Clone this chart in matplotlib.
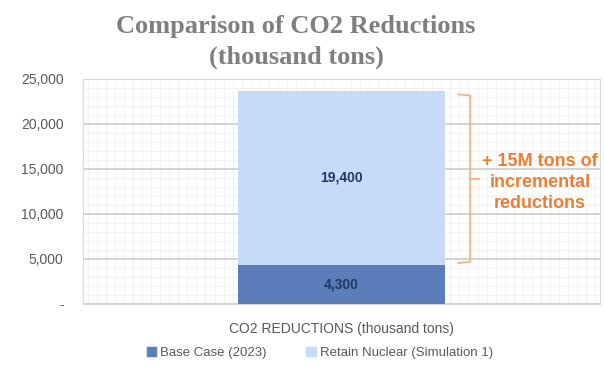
import matplotlib.pyplot as plt
from matplotlib.patches import Patch
from matplotlib.ticker import FuncFormatter, MultipleLocator

category = ["CO2 REDUCTIONS (thousand tons)"]
base_case = [4300]
retain_nuclear = [19400]
series_names = ["Base Case (2023)", "Retain Nuclear (Simulation 1)"]
note = "+ 15M tons of\nincremental\nreductions"

W, H = 605, 371
fig = plt.figure(figsize=(W / 100, H / 100), dpi=100)
plt.rcParams["font.family"] = ["Liberation Sans", "DejaVu Sans"]

# plot area in pixel coords: x 83..600, y 79..304
ax = fig.add_axes([83 / W, 1 - 304 / H, 517 / W, 225 / H])

dark = "#5B7DBA"
light = "#C6DBF8"
navy = "#1F3864"
orange = "#ED7D31"
grey = "#595959"

x = [0]
ax.bar(x, base_case, width=0.402, color=dark, zorder=3)
ax.bar(x, retain_nuclear, width=0.402, bottom=base_case, color=light, zorder=3)

ax.text(0, base_case[0] / 2, f"{base_case[0]:,}", ha="center", va="center",
        color=navy, fontsize=10, fontweight="bold", zorder=4)
ax.text(0, base_case[0] + retain_nuclear[0] / 2, f"{retain_nuclear[0]:,}",
        ha="center", va="center", color=navy, fontsize=10, fontweight="bold", zorder=4)

ax.set_xlim(-0.5, 0.5)
ax.set_ylim(0, 25000)
ax.yaxis.set_major_locator(MultipleLocator(5000))
ax.yaxis.set_minor_locator(MultipleLocator(1000))
ax.yaxis.set_major_formatter(FuncFormatter(lambda v, p: "-" if v == 0 else f"{v:,.0f}"))
ax.set_xticks(x)
ax.set_xticklabels(category)
ax.xaxis.set_minor_locator(MultipleLocator(1 / 57))
ax.tick_params(axis="both", which="both", length=0, colors=grey, labelsize=10)
ax.tick_params(axis="x", pad=13)
ax.tick_params(axis="y", pad=14)

ax.grid(axis="y", which="major", color="#D0D0D0", linewidth=1.3, zorder=1)
ax.grid(which="minor", color="#F0F0F0", linewidth=0.6, zorder=0)
for s in ax.spines.values():
    s.set_color("#D9D9D9")

# bracket showing incremental reductions
top = base_case[0] + retain_nuclear[0] - 400
bot = base_case[0] + 250
mid = base_case[0] + retain_nuclear[0] / 2
bx0, bx1 = 0.226, 0.249
ax.plot([bx0, bx1, bx1, bx0], [top, top - 150, bot + 150, bot],
        color="#F4B183", linewidth=1.3, zorder=4, clip_on=False)
ax.plot([bx1, bx1 + 0.016], [mid - 100, mid - 100], color="#F4B183", linewidth=1.3, zorder=4)
ax.text(0.384, mid - 500, note, ha="center", va="center", color=orange,
        fontsize=13, fontweight="bold", linespacing=1.3, zorder=4)

fig.text(296 / W, 1 - 42 / H, "Comparison of CO2 Reductions\n(thousand tons)",
         ha="center", va="center", fontsize=19, fontweight="bold", color="#7F7F7F",
         family=["Liberation Serif", "DejaVu Serif"], linespacing=1.45)

fig.legend(handles=[Patch(color=dark), Patch(color=light)], labels=series_names,
           loc="center", bbox_to_anchor=(320 / W, 1 - 353 / H), ncol=2, frameon=False,
           fontsize=9.5, handlelength=0.7, handleheight=0.7, columnspacing=3.0,
           handletextpad=0.3, labelcolor=grey)

fig.savefig("out.png", dpi=100)
